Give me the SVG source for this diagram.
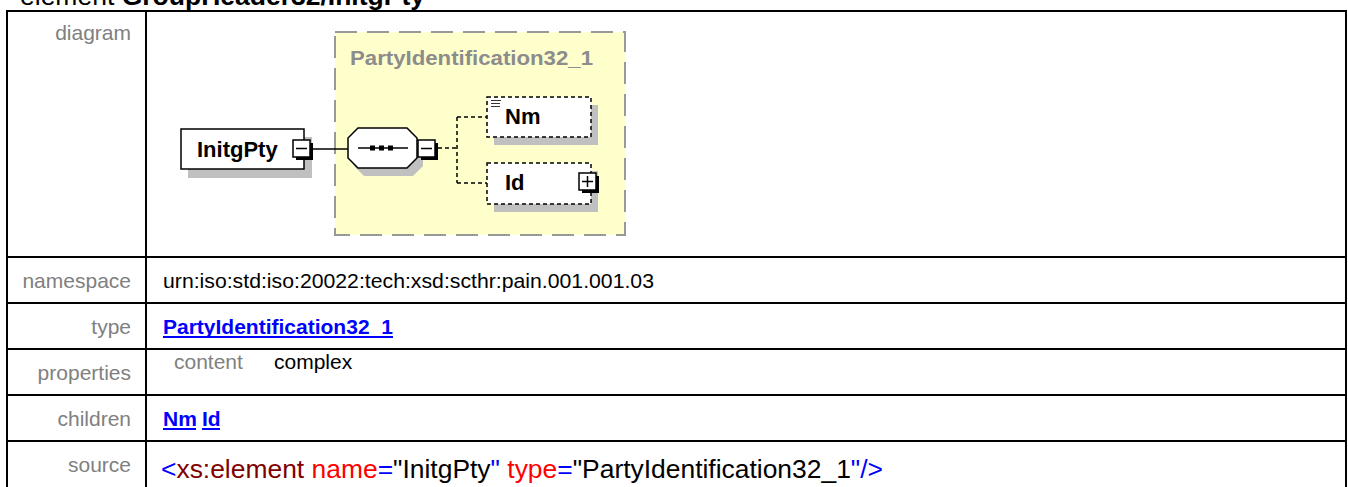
<svg xmlns="http://www.w3.org/2000/svg" width="1348" height="487" viewBox="0 0 1348 487">
<style>
text{font-family:"Liberation Sans",Arial,sans-serif}
.lbl{font-size:21px;fill:#808080;text-anchor:end}
.val{font-size:21px;fill:#000}
.lnk{font-size:21px;fill:#0000ff;font-weight:bold}
.tl{fill:#000}
.nodeTxt{font-size:22px;font-weight:bold;fill:#000}
.shadow{fill:#c0c0c0}
.box{fill:#fff;stroke:#000;stroke-width:1.5}
.dbox{fill:#fff;stroke:#000;stroke-width:1.5;stroke-dasharray:4 3}
.conn{fill:none;stroke:#000;stroke-width:1.5}
.dconn{fill:none;stroke:#000;stroke-width:1.5;stroke-dasharray:4 3}
.grid{stroke:#000;stroke-width:2;fill:none}
</style>

<!-- title (cut off at top, as in the reference) -->
<text x="20" y="5" style="font-size:26.5px" class="tl">element <tspan font-weight="bold">GroupHeader32/InitgPty</tspan></text>

<!-- table -->
<g id="table">
<rect x="7" y="11" width="1339" height="490" class="grid"/>
<line x1="146" y1="11" x2="146" y2="487" class="grid"/>
<line x1="7" y1="257" x2="1346" y2="257" class="grid"/>
<line x1="7" y1="303" x2="1346" y2="303" class="grid"/>
<line x1="7" y1="349" x2="1346" y2="349" class="grid"/>
<line x1="7" y1="395" x2="1346" y2="395" class="grid"/>
<line x1="7" y1="441" x2="1346" y2="441" class="grid"/>
<text x="131" y="40" class="lbl">diagram</text>
<text x="131" y="288" class="lbl">namespace</text>
<text x="131" y="334" class="lbl">type</text>
<text x="131" y="380" class="lbl">properties</text>
<text x="131" y="426" class="lbl">children</text>
<text x="131" y="472" class="lbl">source</text>
<text x="163" y="288" class="val" textLength="491" lengthAdjust="spacingAndGlyphs">urn:iso:std:iso:20022:tech:xsd:scthr:pain.001.001.03</text>
<text x="163" y="334" class="lnk">PartyIdentification32_1</text>
<line x1="163" y1="337" x2="393" y2="337" stroke="#0000ff" stroke-width="2"/>
<text x="174" y="369" class="lbl" style="text-anchor:start">content</text>
<text x="274" y="369" class="val">complex</text>
<text x="163" y="426" class="lnk">Nm</text>
<line x1="163" y1="429" x2="196" y2="429" stroke="#0000ff" stroke-width="2"/>
<text x="202" y="426" class="lnk">Id</text>
<line x1="202" y1="429" x2="220" y2="429" stroke="#0000ff" stroke-width="2"/>
<text x="161" y="478" style="font-size:26.5px" textLength="722" lengthAdjust="spacingAndGlyphs"><tspan fill="#0000ff">&lt;</tspan><tspan fill="#800000">xs:element</tspan> <tspan fill="#ff0000">name</tspan><tspan fill="#0000ff">=</tspan><tspan fill="#000">"InitgPty</tspan><tspan fill="#0000ff">"</tspan> <tspan fill="#ff0000">type</tspan><tspan fill="#0000ff">=</tspan><tspan fill="#000">"PartyIdentification32_1</tspan><tspan fill="#0000ff">"/&gt;</tspan></text>
</g>

<!-- group (complex type) -->
<g id="PartyIdentification32_1">
<rect x="335" y="32" width="290" height="203" fill="#ffffcc" stroke="#999" stroke-width="2" stroke-dasharray="22 10"/>
<text x="350" y="65" style="font-size:20.5px;font-weight:bold;fill:#8c8c8c" textLength="243" lengthAdjust="spacingAndGlyphs">PartyIdentification32_1</text>
</g>

<g id="connectors">
<line x1="311" y1="149" x2="348" y2="149" class="conn"/>
<path d="M438 148 H457 M457 117 V183 M457 117 H487 M457 183 H487" class="dconn"/>
</g>

<g id="InitgPty">
<rect x="188" y="137" width="124" height="41" class="shadow"/>
<rect x="181" y="129" width="123" height="40" class="box"/>
<text x="197" y="157" class="nodeTxt">InitgPty</text>
<rect x="296" y="143" width="17" height="17" fill="#000"/>
<rect x="293" y="140" width="17" height="17" class="box"/>
<line x1="296" y1="148.5" x2="307" y2="148.5" stroke="#000" stroke-width="1.5"/>
</g>

<g id="sequence">
<polygon points="364,136 413,136 423,146 423,166 413,176 364,176 354,166 354,146" class="shadow"/>
<polygon points="358,128 407,128 417,138 417,158 407,168 358,168 348,158 348,138" class="box"/>
<line x1="358" y1="148" x2="408" y2="148" stroke="#000" stroke-width="1.5"/>
<rect x="370" y="145.5" width="5" height="5" fill="#000"/>
<rect x="379" y="145.5" width="5" height="5" fill="#000"/>
<rect x="388" y="145.5" width="5" height="5" fill="#000"/>
<rect x="421" y="143" width="17" height="17" fill="#000"/>
<rect x="418" y="140" width="17" height="17" class="box"/>
<line x1="421" y1="148.5" x2="432" y2="148.5" stroke="#000" stroke-width="1.5"/>
</g>

<g id="Nm">
<rect x="494" y="105" width="104" height="40" class="shadow"/>
<rect x="487" y="97" width="104" height="40" class="dbox"/>
<path d="M491 100.5 H501 M491 103.5 H500 M491 106.5 H500" stroke="#333" stroke-width="1.2"/>
<text x="505" y="124" class="nodeTxt">Nm</text>
</g>

<g id="Id">
<rect x="494" y="171" width="104" height="41" class="shadow"/>
<rect x="487" y="163" width="104" height="41" class="dbox"/>
<text x="505" y="190" class="nodeTxt">Id</text>
<rect x="582" y="176" width="17" height="17" fill="#000"/>
<rect x="579" y="173" width="17" height="17" class="box"/>
<path d="M582 181.5 H593 M587.5 176 V187" stroke="#000" stroke-width="1.5"/>
</g>
</svg>
